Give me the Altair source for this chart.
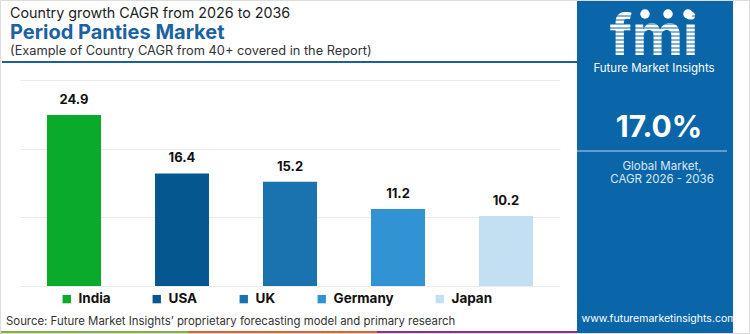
import altair as alt
import pandas as pd

countries = ["India", "USA", "UK", "Germany", "Japan"]
cagr = [24.9, 16.4, 15.2, 11.2, 10.2]
bar_colors = ["#0aab2d", "#04588f", "#1a72ae", "#3192d4", "#c3e0f2"]
grid_ticks = [0, 5, 10, 15, 20, 25, 30]

title_top = "Country growth CAGR from 2026 to 2036"
title_main = "Period Panties Market"
title_sub = "(Example of Country CAGR from 40+ covered in the Report)"
source_text = "Source: Future Market Insights\u2019 proprietary forecasting model and primary research"
global_value = "17.0%"
global_lines = ["Global Market,", "CAGR 2026 - 2036"]
site = "www.futuremarketinsights.com"
brand = "Future Market Insights"

FONT = "Inter"
PANEL = "#0a66a8"

df = pd.DataFrame({"country": countries, "cagr": cagr})
one = alt.Data(values=[{"k": 0}])

x_enc = alt.X("country:N", sort=countries,
              scale=alt.Scale(paddingInner=0.5, paddingOuter=0.25),
              axis=None)
y_enc = alt.Y("cagr:Q", scale=alt.Scale(domain=[0, 30], nice=False),
              axis=alt.Axis(values=grid_ticks, grid=True, gridColor="#ebebeb",
                            gridWidth=1, domain=False, ticks=False, labels=False,
                            title=None))

bars = alt.Chart(df).mark_bar().encode(
    x=x_enc, y=y_enc,
    color=alt.Color("country:N", sort=countries,
                    scale=alt.Scale(domain=countries, range=bar_colors),
                    legend=alt.Legend(orient="none", direction="horizontal",
                                      legendX=40, legendY=212, title=None,
                                      symbolType="square", symbolSize=70,
                                      symbolStrokeWidth=0,
                                      labelFont=FONT, labelFontSize=13.5,
                                      labelFontWeight="bold", labelColor="#111111",
                                      labelOffset=5, columnPadding=39, padding=0)),
)

labels = alt.Chart(df).mark_text(font=FONT, fontSize=13, fontWeight="bold",
                                 color="#111111", baseline="bottom", dy=-8).encode(
    x=alt.X("country:N", sort=countries), y="cagr:Q", text=alt.Text("cagr:Q", format=".1f"))

layers = [bars, labels]

def txt(s, x, y, size, color, weight="normal", align="left"):
    return alt.Chart(one).mark_text(text=s, font=FONT, fontSize=size, color=color,
                                    fontWeight=weight, align=align,
                                    baseline="alphabetic").encode(
        x=alt.value(x), y=alt.value(y))

def rect(x, x2, y, y2, color):
    return alt.Chart(one).mark_rect(color=color).encode(
        x=alt.value(x), x2=alt.value(x2), y=alt.value(y), y2=alt.value(y2))

# titles
layers.append(txt(title_top, -10, -62, 14.3, "#222222"))
layers.append(txt(title_main, -10, -41, 20, "#1a62a0", "bold"))
layers.append(txt(title_sub, -10, -25, 12.8, "#333333"))
layers.append(alt.Chart(one).mark_rule(color="#1f5f99", strokeWidth=2).encode(
    x=alt.value(-18), x2=alt.value(557), y=alt.value(-18)))

# source + strip
layers.append(txt(source_text, -14, 245, 11.4, "#333333"))
layers.append(rect(-20, 168, 251, 254, "#7cb342"))
layers.append(rect(168, 357, 251, 254, "#e0622a"))
layers.append(rect(357, 557, 251, 254, "#8e2d8f"))

# right panel
layers.append(rect(557, 713, -80, 254, PANEL))
layers.append(alt.Chart(one).mark_text(text="fmi", font=FONT, fontSize=56, fontWeight="bold",
                                       color="white", align="center",
                                       baseline="alphabetic").encode(
    x=alt.value(634), y=alt.value(-25)))
for yy in range(-64, -25, 4):
    layers.append(alt.Chart(one).mark_rule(color=PANEL, strokeWidth=1).encode(
        x=alt.value(578), x2=alt.value(692), y=alt.value(yy)))
for cx in [625, 648, 668]:
    layers.append(alt.Chart(one).mark_point(filled=True, color="white", size=90,
                                            opacity=1).encode(
        x=alt.value(cx), y=alt.value(-66)))
layers.append(txt(brand, 634, -8, 11.5, "white", align="center"))
layers.append(txt(global_value, 639, 57, 30, "white", "bold", align="center"))
layers.append(alt.Chart(one).mark_rule(color="#7fb0d8", strokeWidth=1.5).encode(
    x=alt.value(557), x2=alt.value(707), y=alt.value(71)))
layers.append(txt(global_lines[0], 642, 90, 11.5, "#dbe8f3", align="center"))
layers.append(txt(global_lines[1], 642, 103, 11.5, "#dbe8f3", align="center"))
layers.append(txt(site, 639, 242, 10.5, "white", align="center"))

# border
layers.append(alt.Chart(one).mark_rect(fillOpacity=0, stroke="#dddddd", strokeWidth=1).encode(
    x=alt.value(-19.5), x2=alt.value(729.5), y=alt.value(-79.5), y2=alt.value(253.5)))

chart = alt.layer(*layers).properties(
    width=540, height=206,
    padding={"left": 20, "top": 80, "right": 190, "bottom": 48},
    autosize=alt.AutoSizeParams(type="none"),
    background="white",
).configure_view(stroke=None)

chart.save("out.html", embed_options={"renderer": "svg", "actions": False})
